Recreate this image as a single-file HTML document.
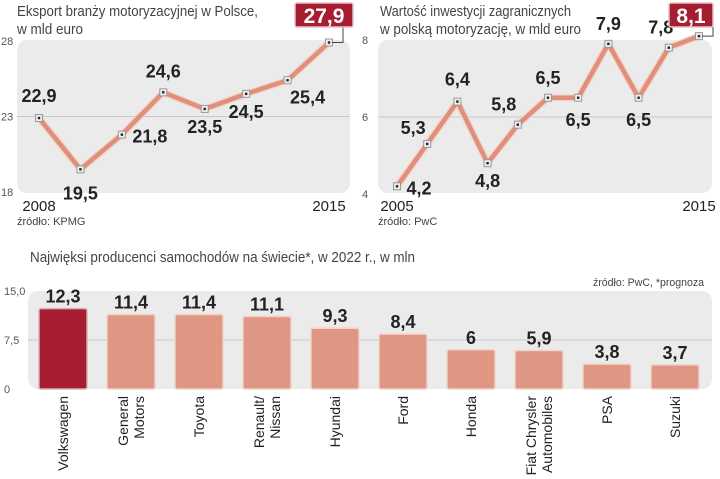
<!DOCTYPE html>
<html><head><meta charset="utf-8"><style>
html,body{margin:0;padding:0;background:#fff;}
svg{display:block;font-family:"Liberation Sans Narrow","Liberation Sans",sans-serif;}
.t{font-size:15px;fill:#444;}
.ax{font-size:11px;fill:#555;}
.v{font-size:18px;font-weight:bold;fill:#222;}
.yr{font-size:15px;fill:#222;}
.src{font-size:11px;fill:#444;}
.cat{font-size:14px;fill:#222;}
</style></head><body>
<svg id="c" width="720" height="479">
<text class="t" x="17" y="16" textLength="241" lengthAdjust="spacingAndGlyphs">Eksport branży motoryzacyjnej w Polsce,</text>
<text class="t" x="17" y="34" textLength="66" lengthAdjust="spacingAndGlyphs">w mld euro</text>
<text class="t" x="380" y="16" textLength="191" lengthAdjust="spacingAndGlyphs">Wartość inwestycji zagranicznych</text>
<text class="t" x="380" y="34" textLength="201" lengthAdjust="spacingAndGlyphs">w polską motoryzację, w mld euro</text>
<text class="t" x="30" y="262" textLength="385" lengthAdjust="spacingAndGlyphs">Najwięksi producenci samochodów na świecie*, w 2022 r., w mln</text>
<text class="src" x="704" y="286" text-anchor="end" textLength="111" lengthAdjust="spacingAndGlyphs">źródło: PwC, *prognoza</text>
<text class="src" x="17" y="225">źródło: KPMG</text>
<text class="src" x="378" y="225">źródło: PwC</text>
</svg>
<script>
const years1=["2008","2009","2010","2011","2012","2013","2014","2015"];
const export1=[22.9,19.5,21.8,24.6,23.5,24.5,25.4,27.9];
const ticks1=[18,23,28];
const years2=["2005","2006","2007","2008","2009","2010","2011","2012","2013","2014","2015"];
const invest2=[4.2,5.3,6.4,4.8,5.8,6.5,6.5,7.9,6.5,7.8,8.1];
const ticks2=[4,6,8];
const makers=["Volkswagen","General|Motors","Toyota","Renault/|Nissan","Hyundai","Ford","Honda","Fiat Chrysler|Automobiles","PSA","Suzuki"];
const prod=[12.3,11.4,11.4,11.1,9.3,8.4,6,5.9,3.8,3.7];
const ticks3=[0,7.5,15];
const tickLabels3=["0","7,5","15,0"];

const NS="http://www.w3.org/2000/svg";
const svg=document.getElementById('c');
function el(tag,attrs,text){const e=document.createElementNS(NS,tag);for(const k in attrs)e.setAttribute(k,attrs[k]);if(text!==undefined)e.textContent=text;svg.appendChild(e);return e;}
const fmt=v=>String(v).replace('.',',');

function lineChart(o){
  const {px0,px1,py0,py1,x0,x1,ymin,ymax,yTop,yBot,vals,yrs,ticks,labelPos,name}=o;
  const r=el('rect',{x:px0,y:py0,width:px1-px0,height:py1-py0,rx:10,fill:'#ebebeb'});
  
  const xs=i=>x0+(x1-x0)*i/(vals.length-1);
  const ys=v=>yBot+(yTop-yBot)*(v-ymin)/(ymax-ymin);
  ticks.forEach((t,i)=>{
    const y=ys(t);
    if(i===1){const g=el('line',{x1:px0,x2:px1,y1:y,y2:y,stroke:'#c8c8c8','stroke-width':1});}
    const tx=el('text',{x:px0-16,y:y+4,class:'ax'},String(t));
    
  });
  const pts=vals.map((v,i)=>xs(i)+','+ys(v)).join(' ');
  el('polyline',{points:pts,fill:'none',stroke:'#f3d3c9','stroke-width':7,'stroke-linejoin':'round'});
  const pl=el('polyline',{points:pts,fill:'none',stroke:'#e0907a','stroke-width':4.5,'stroke-linejoin':'round'});
  
  vals.forEach((v,i)=>{
    const x=xs(i),y=ys(v);
    const m=el('rect',{x:x-3.5,y:y-3.5,width:7,height:7,fill:'#eee',stroke:'#999','stroke-width':1});
    
    el('rect',{x:x-1.2,y:y-1.2,width:2.4,height:2.4,fill:'#222'});
    if(i<vals.length-1){
      const lp=labelPos[i];
      const t=el('text',{x:x+lp[0],y:y+lp[1],class:'v','text-anchor':'middle'},fmt(v));
      
    }
  });
  const n=vals.length-1,lx=xs(n),ly=ys(vals[n]);
  const bw=o.boxW;
  el('polyline',{points:`${lx+3},${ly} ${lx+14},${ly} ${lx+14},${o.boxY+24}`,fill:'none',stroke:'#444','stroke-width':1});
  const b=el('rect',{x:lx+14+o.boxDx-bw,y:o.boxY,width:bw,height:24,rx:2,fill:'#a61c30',stroke:'#e7c0c4','stroke-width':1.5});
  
  const bt=el('text',{x:lx+14+o.boxDx-bw/2,y:o.boxY+20,class:'v','text-anchor':'middle',style:'fill:#fff;font-size:21px'},fmt(vals[n]));
  
  const a=el('text',{x:x0,y:py1+18,class:'yr','text-anchor':'middle'},yrs[0]);
  
  const b2=el('text',{x:x1,y:py1+18,class:'yr','text-anchor':'middle'},yrs[yrs.length-1]);
  
}
lineChart({name:'export',px0:17,px1:350,py0:40,py1:193,x0:39,x1:329,ymin:18,ymax:28,yTop:41,yBot:192,vals:export1,yrs:years1,ticks:ticks1,
  labelPos:[[0,-16],[0,30],[28,8],[0,-15],[0,24],[0,24],[20,23]],boxY:3,boxW:58,boxDx:10});
lineChart({name:'investment',px0:378,px1:712,py0:40,py1:193,x0:397,x1:699,ymin:4,ymax:8,yTop:40,yBot:194,vals:invest2,yrs:years2,ticks:ticks2,
  labelPos:[[22,8],[-14,-10],[0,-16],[0,24],[-14,-14],[0,-14],[0,28],[0,-14],[0,28],[-8,-14]],boxY:3,boxW:44,boxDx:0});

// bar chart
const bx0=39,bstep=68,bw=48,base=389,top15=291;
const by=v=>base+(top15-base)*v/15;
const pa=el('rect',{x:28,y:291,width:684,height:98,rx:10,fill:'#ebebeb'});

const gl=el('line',{x1:28,x2:712,y1:by(7.5),y2:by(7.5),stroke:'#c8c8c8','stroke-width':1});

ticks3.forEach((t,i)=>{
  const tx=el('text',{x:4,y:by(t)+4,class:'ax'},tickLabels3[i]);
  
});
prod.forEach((v,i)=>{
  const x=bx0+i*bstep,y=by(v);
  const r=el('rect',{x:x,y:y,width:bw,height:base-y,rx:2,fill:i===0?'#a61c30':'#df9682',stroke:i===0?'#d9b0b5':'#f0d2c8','stroke-width':1.5});
  
  
  const t=el('text',{x:x+bw/2,y:y-6,class:'v','text-anchor':'middle'},fmt(v));
  
  const lines=makers[i].split('|');
  const cx=x+bw/2;
  lines.forEach((ln,j)=>{
    const off=(j-(lines.length-1)/2)*16+5;
    const c=el('text',{x:0,y:0,class:'cat','text-anchor':'end',transform:`translate(${cx+off},396) rotate(-90)`},ln);
    
  });
});
</script>
</body></html>
